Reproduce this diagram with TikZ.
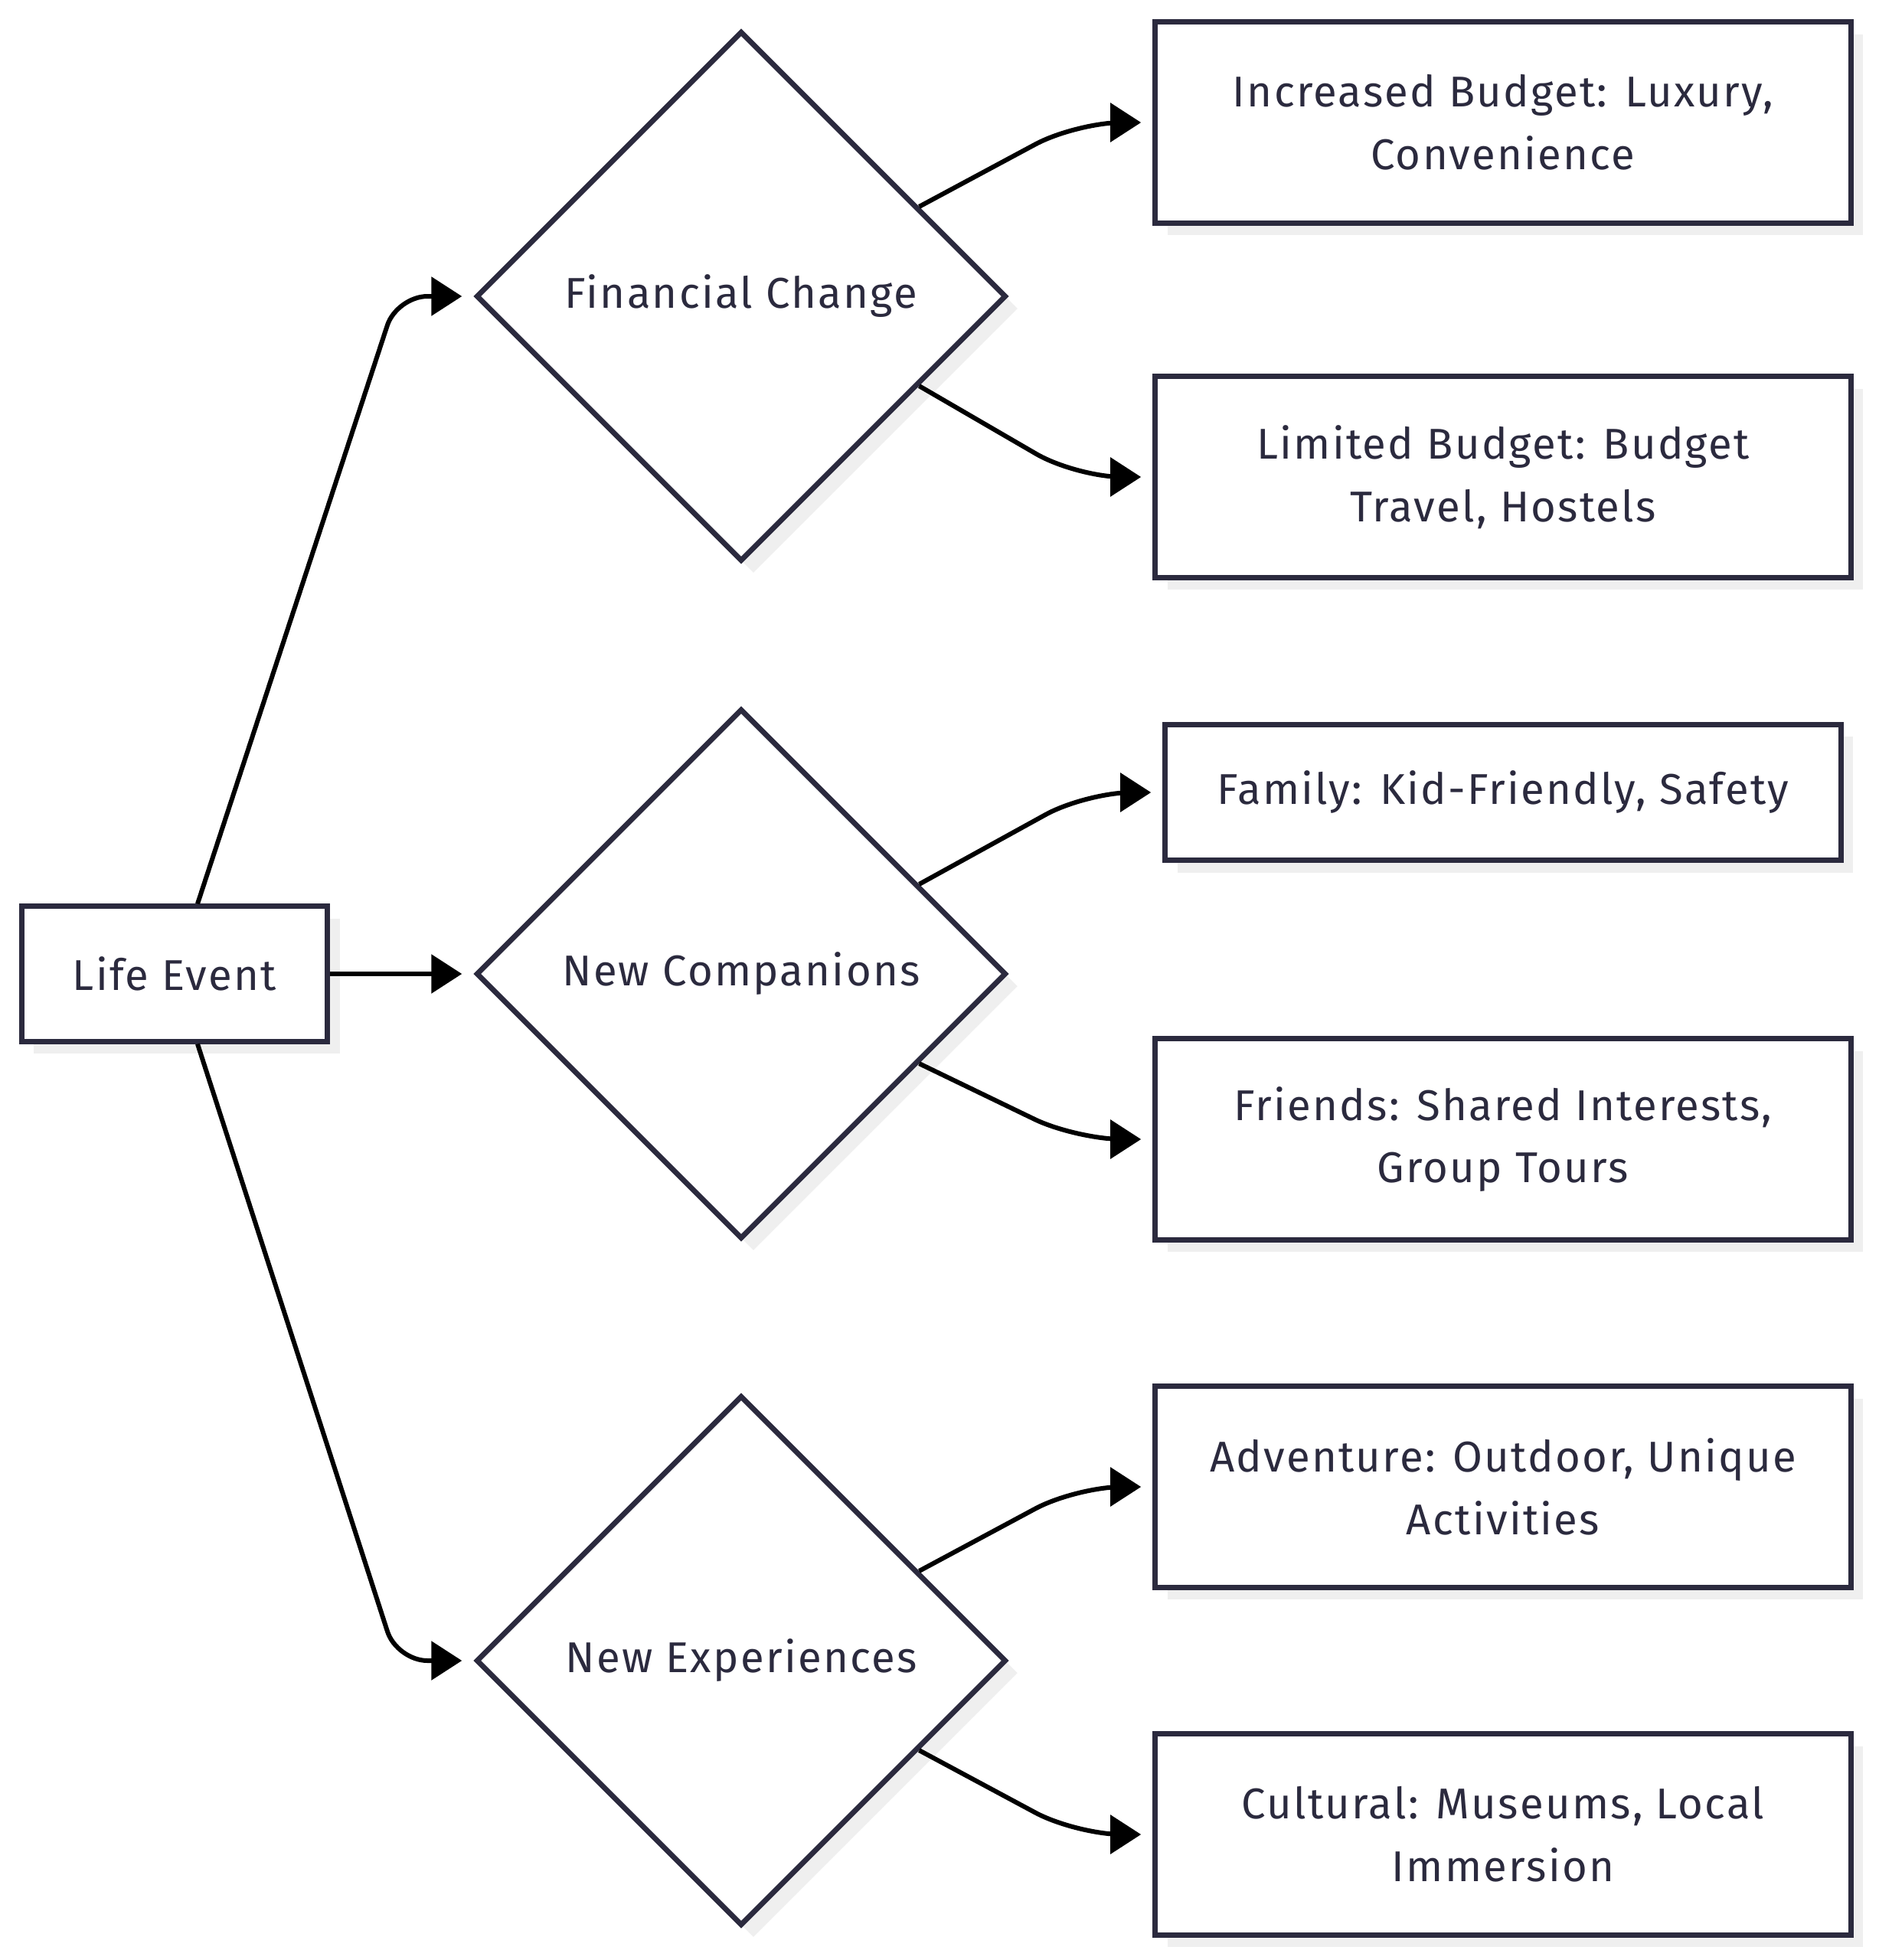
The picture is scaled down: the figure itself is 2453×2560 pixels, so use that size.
\documentclass[tikz,border=0pt]{standalone}
\usepackage{fontspec}
\setmainfont{Fira Sans}[LetterSpace=4]
\usetikzlibrary{shapes.geometric,arrows.meta,calc,shadows}
\definecolor{inkline}{HTML}{2B2A3E}
\definecolor{shadowgray}{HTML}{EFEFEF}

\begin{document}
\begin{tikzpicture}[
    x=0.01cm, y=-0.01cm,
    box/.style={draw=inkline, line width=0.07cm, fill=white, text=inkline, align=center,
        font=\fontsize{16}{23.3}\selectfont, minimum width=9.08cm, minimum height=2.62cm,
        drop shadow={shadow xshift=0.16cm, shadow yshift=-0.16cm, fill=shadowgray, opacity=1}},
    choice/.style={box, diamond, minimum width=6.92cm, minimum height=6.92cm, inner sep=0pt},
    edge/.style={draw=black, line width=0.06cm, -{Triangle[length=0.4cm, width=0.5cm]}, shorten >=0.15cm},
]
    \useasboundingbox (0,0) rectangle (2453,2560);

    % Start and decisions
    \node[box, minimum width=3.99cm, minimum height=1.76cm] (life) at (228,1272) {Life Event};
    \node[choice] (fin) at (968,387) {Financial Change};
    \node[choice] (comp) at (968,1272) {New Companions};
    \node[choice] (exp) at (968,2169) {New Experiences};

    % Outcomes
    \node[box] (incr) at (1963,160) {Increased Budget: Luxury,\\Convenience};
    \node[box] (limit) at (1963,623) {Limited Budget: Budget\\Travel, Hostels};
    \node[box, minimum width=8.82cm, minimum height=1.77cm] (family) at (1963,1035) {Family: Kid-Friendly, Safety};
    \node[box] (friends) at (1963,1488) {Friends: Shared Interests,\\Group Tours};
    \node[box] (adv) at (1963,1942) {Adventure: Outdoor, Unique\\Activities};
    \node[box] (cult) at (1963,2396) {Cultural: Museums, Local\\Immersion};

    % Life event to decisions
    \draw[edge, rounded corners=0.4cm] ($(life.north)+(30,0)$) -- ($(fin.west)+(-100,0)$) -- (fin.west);
    \draw[edge] (life.east) -- (comp.west);
    \draw[edge, rounded corners=0.4cm] ($(life.south)+(30,0)$) -- ($(exp.west)+(-100,0)$) -- (exp.west);

    % Decisions to outcomes
    \foreach \src/\dst in {fin/incr, comp/family, exp/adv} {
        \draw[edge, rounded corners=0.6cm] ($(\src.north east)!0.33!(\src.east)$) -- ($(\dst.west)+(-100,0)$) -- (\dst.west);
    }
    \foreach \src/\dst in {fin/limit, comp/friends, exp/cult} {
        \draw[edge, rounded corners=0.6cm] ($(\src.south east)!0.33!(\src.east)$) -- ($(\dst.west)+(-100,0)$) -- (\dst.west);
    }

\end{tikzpicture}
\end{document}
